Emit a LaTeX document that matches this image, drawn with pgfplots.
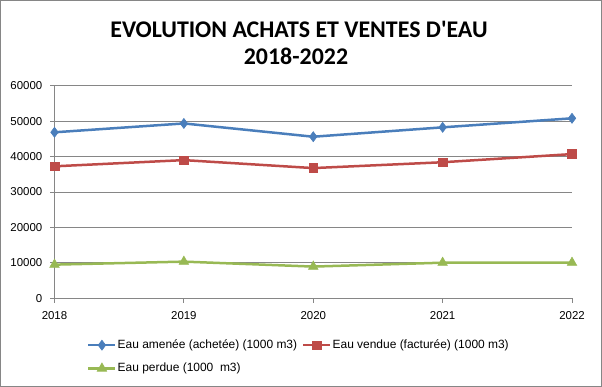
\documentclass[border=0pt]{standalone}
\usepackage{fontspec}
\setmainfont{Liberation Sans}
\newfontfamily\titlefont{Carlito}
\usepackage{pgfplots}
\pgfplotsset{compat=1.18}
\definecolor{sblue}{HTML}{4A7EBB}
\definecolor{sred}{HTML}{BE4B48}
\definecolor{sgreen}{HTML}{98B954}
\definecolor{gridgray}{HTML}{868686}
\begin{document}
\begin{tikzpicture}
\path[use as bounding box] (0,0) rectangle (602bp,387bp);
\draw[gridgray, line width=1bp] (0.5bp,0.5bp) rectangle (601.5bp,386.5bp);
\node[anchor=base, font=\titlefont\bfseries\fontsize{24}{28}\selectfont] at (299bp,349.3bp) {EVOLUTION ACHATS ET VENTES D'EAU};
\node[anchor=base, font=\titlefont\bfseries\fontsize{24}{28}\selectfont] at (296bp,322bp) {2018-2022};
\begin{axis}[
  at={(54.5bp,88.7bp)}, anchor=south west,
  scale only axis, width=517.5bp, height=212.6bp,
  xmin=2018, xmax=2022, ymin=0, ymax=60000,
  xtick={2018,2019,2020,2021,2022},
  ytick={0,10000,20000,30000,40000,50000,60000},
  axis x line=bottom, axis y line=left,
  axis line style={draw=gridgray, line width=1bp, -},
  tick style={draw=gridgray, line width=1bp},
  tick align=outside, major tick length=4.5bp,
  ymajorgrids, grid style={draw=gridgray, line width=1bp},
  /pgf/number format/.cd, set thousands separator={}, 1000 sep={}, assume math mode=true, /pgfplots/.cd,
  scaled y ticks=false,
  tick label style={font=\fontsize{11.5}{13}\selectfont, inner sep=0pt},
  yticklabel style={xshift=-7.5bp},
  xticklabel style={yshift=-8bp},
  legend columns=2,
  legend cell align=left,
  legend style={draw=none, fill=none, at={(0.0628,-0.1867)}, anchor=north west,
    inner sep=0pt, row sep=9.3bp,
    font=\fontsize{12}{14}\selectfont,
    nodes={inner sep=1bp, text height=9bp, text depth=3bp},
    /tikz/every even column/.append style={column sep=4bp}},
  legend image code/.code={\draw[mark repeat=2,mark phase=2] plot coordinates {(0bp,0bp)(13.5bp,0bp)(27bp,0bp)};},
]
\addplot[color=sblue, line width=2.5bp, mark=diamond*, mark size=5bp, mark options={solid, line width=0.6bp, fill=sblue}]
 coordinates {(2018,46850) (2019,49350) (2020,45600) (2021,48250) (2022,50800)};
\addlegendentry{Eau amenée (achetée) (1000 m3)}
\addplot[color=sred, line width=2.5bp, mark=square*, mark size=4.3bp, mark options={solid, line width=0.6bp, fill=sred}]
 coordinates {(2018,37250) (2019,39000) (2020,36750) (2021,38400) (2022,40700)};
\addlegendentry{Eau vendue (facturée) (1000 m3)}
\addplot[color=sgreen, line width=2.5bp, mark=triangle*, mark size=5.5bp, mark options={solid, line width=0.6bp, fill=sgreen}]
 coordinates {(2018,9500) (2019,10350) (2020,8950) (2021,10050) (2022,10050)};
\addlegendentry{Eau perdue (1000\ \ m3)}
\end{axis}
\end{tikzpicture}
\end{document}
